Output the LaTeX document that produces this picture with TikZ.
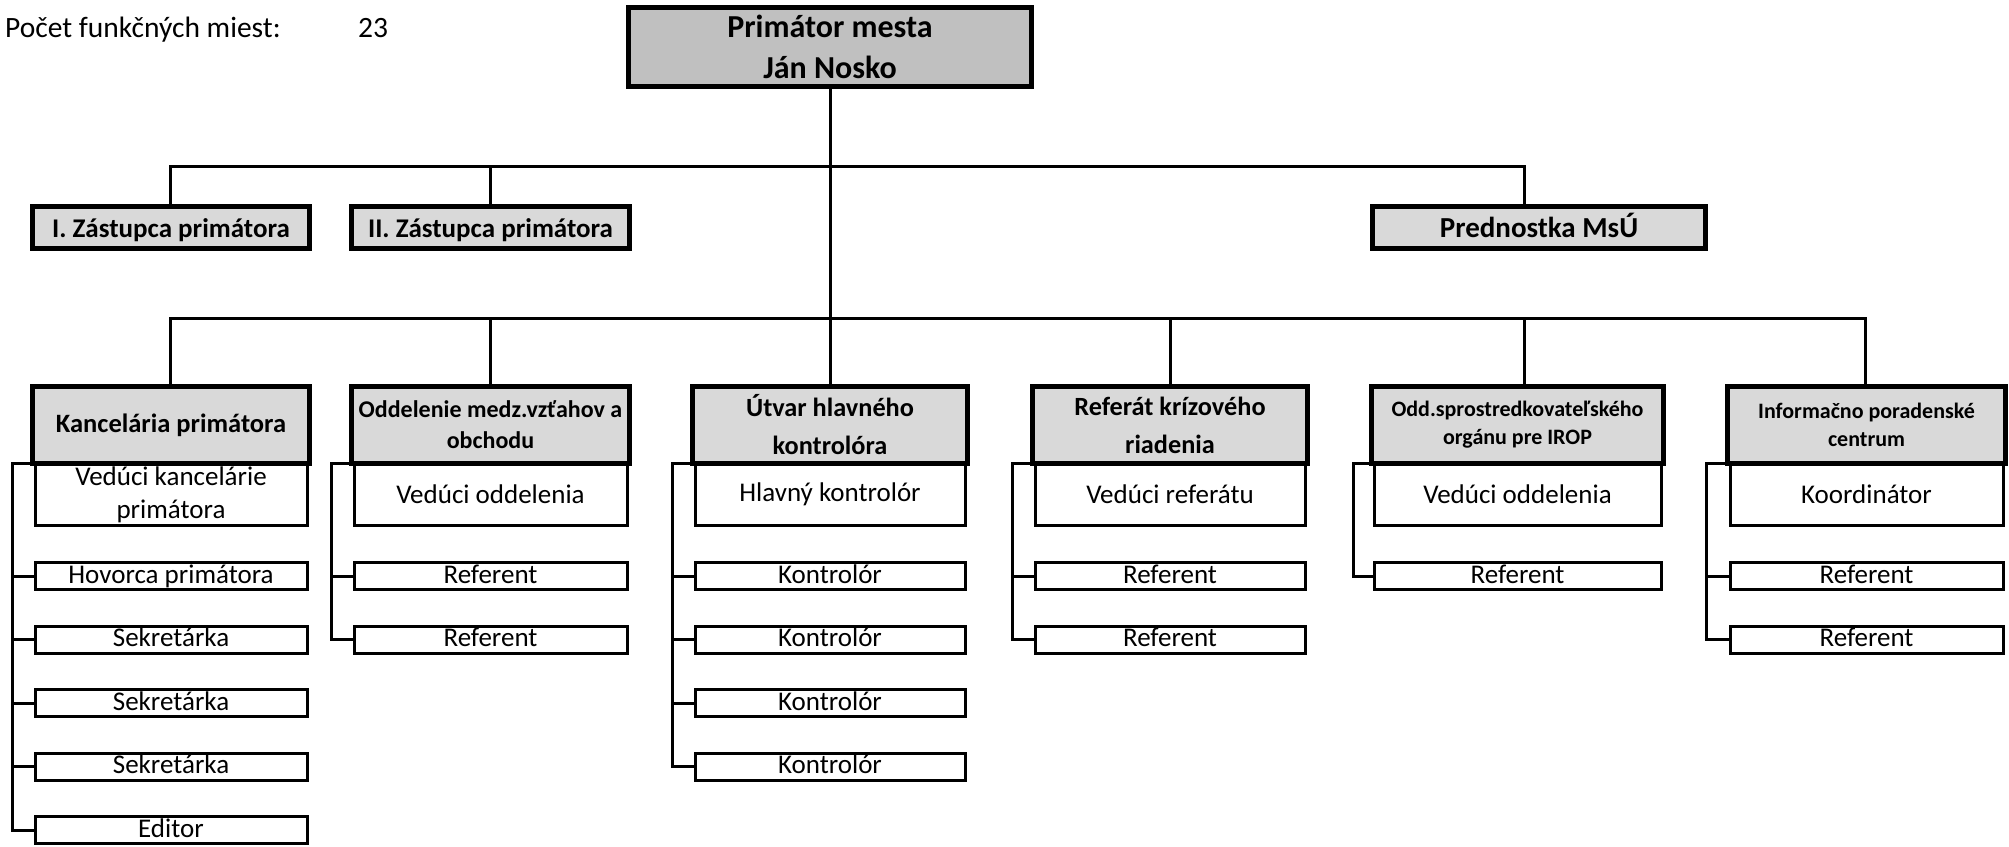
\documentclass[tikz,border=0pt]{standalone}
\usepackage{fontspec}
\setmainfont{Carlito}
\usetikzlibrary{calc}
\pgfdeclarelayer{background}
\pgfsetlayers{background,main}
\definecolor{gtop}{HTML}{C0C0C0}
\definecolor{ghdr}{HTML}{D9D9D9}
\tikzset{
  conn/.style={line width=3pt, line join=miter},
  thickbox/.style={draw, line width=5pt, inner sep=0pt, outer sep=0pt, align=center},
  topbox/.style={thickbox, fill=gtop, font=\bfseries\fontsize{32}{41}\selectfont},
  lvlbox/.style={thickbox, fill=ghdr, minimum height=42pt, text height=22pt, text depth=3pt,
    font=\bfseries\fontsize{27}{33}\selectfont},
  hdrbox/.style={thickbox, fill=ghdr, minimum height=77pt},
  hfontK/.style={font=\bfseries\fontsize{26.5}{38}\selectfont},
  hfontA/.style={font=\bfseries\fontsize{26.3}{38}\selectfont},
  hfontB/.style={font=\bfseries\fontsize{24}{31}\selectfont},
  hfontC/.style={font=\bfseries\fontsize{22}{28}\selectfont},
  subbox/.style={draw, line width=3pt, fill=white, inner sep=0pt, outer sep=0pt, align=center,
    font=\fontsize{27}{33}\selectfont, minimum height=62pt},
  rowbox/.style={draw, line width=3pt, fill=white, inner sep=0pt, outer sep=0pt,
    font=\fontsize{27}{33}\selectfont, minimum height=27pt, text height=19pt, text depth=5pt},
  plain/.style={inner sep=0pt, anchor=base west, font=\fontsize{29.5}{34}\selectfont}
}
\begin{document}
\begin{tikzpicture}[x=1pt,y=-1pt]
\useasboundingbox (0,0) rectangle (2009,846);

% header text
\node[plain] (pocet) at (5,37) {Počet funkčných miest:};
\node[plain] (num) at (358,37) {23};

% top
\node[topbox, minimum width=403pt, minimum height=79pt] (prim) at (830,47) {Primátor mesta\\Ján Nosko};

% second level
\node[lvlbox, minimum width=277pt] (z1) at (171,227.5) {I. Zástupca primátora};
\node[lvlbox, minimum width=278pt] (z2) at (490.5,227.5) {II. Zástupca primátora};
\node[lvlbox, minimum width=333pt, font=\bfseries\fontsize{29}{33}\selectfont] (pr) at (1539,227.5) {Prednostka MsÚ};

% ---- column 1
\node[subbox, minimum width=272pt] (s11) at (171,494.5) {Vedúci kancelárie\\primátora};
\node[hdrbox, hfontK, minimum width=277pt] (c1) at (171,425) {Kancelária primátora};
\node[rowbox, minimum width=272pt] (s12) at (171,576) {Hovorca primátora};
\node[rowbox, minimum width=272pt] (s13) at (171,639.6) {Sekretárka};
\node[rowbox, minimum width=272pt] (s14) at (171,703.2) {Sekretárka};
\node[rowbox, minimum width=272pt] (s15) at (171,766.8) {Sekretárka};
\node[rowbox, minimum width=272pt] (s16) at (171,830.4) {Editor};

% ---- column 2
\node[subbox, minimum width=273pt] (s21) at (490.5,494.5) {Vedúci oddelenia};
\node[hdrbox, hfontB, minimum width=278pt] (c2) at (490.5,425) {Oddelenie medz.vzťahov a\\obchodu};
\node[rowbox, minimum width=273pt] (s22) at (490.5,576) {Referent};
\node[rowbox, minimum width=273pt] (s23) at (490.5,639.6) {Referent};

% ---- column 3
\node[subbox, minimum width=270pt] (s31) at (830,494.5) {Hlavný kontrolór};
\node[hdrbox, hfontA, minimum width=275pt] (c3) at (830,425) {Útvar hlavného\\kontrolóra};
\node[rowbox, minimum width=270pt] (s32) at (830,576) {Kontrolór};
\node[rowbox, minimum width=270pt] (s33) at (830,639.6) {Kontrolór};
\node[rowbox, minimum width=270pt] (s34) at (830,703.2) {Kontrolór};
\node[rowbox, minimum width=270pt] (s35) at (830,766.8) {Kontrolór};

% ---- column 4
\node[subbox, minimum width=270pt] (s41) at (1170,494.5) {Vedúci referátu};
\node[hdrbox, hfontA, minimum width=275pt] (c4) at (1170,425) {Referát krízového\\riadenia};
\node[rowbox, minimum width=270pt] (s42) at (1170,576) {Referent};
\node[rowbox, minimum width=270pt] (s43) at (1170,639.6) {Referent};

% ---- column 5
\node[subbox, minimum width=287pt] (s51) at (1517.5,494.5) {Vedúci oddelenia};
\node[hdrbox, hfontC, minimum width=292pt] (c5) at (1517.5,425) {Odd.sprostredkovateľského\\orgánu pre IROP};
\node[rowbox, minimum width=287pt] (s52) at (1517.5,576) {Referent};

% ---- column 6
\node[subbox, minimum width=273pt] (s61) at (1866.5,494.5) {Koordinátor};
\node[hdrbox, hfontC, minimum width=278pt] (c6) at (1866.5,425) {Informačno poradenské\\centrum};
\node[rowbox, minimum width=273pt] (s62) at (1866.5,576) {Referent};
\node[rowbox, minimum width=273pt] (s63) at (1866.5,639.6) {Referent};

% bus coordinates
\coordinate (a1) at (170,166);
\coordinate (a2) at (490,166);
\coordinate (a3) at (1524,166);
\coordinate (b1) at (170,318);
\coordinate (b2) at (490,318);
\coordinate (b4) at (1170,318);
\coordinate (b5) at (1524,318);
\coordinate (b6) at (1865,318);

\begin{pgfonlayer}{background}
  \draw[conn] (prim.south) -- (c3.north);
  \draw[conn] (a1 |- z1.north) -- (a1) -- (a3) -- (a3 |- pr.north);
  \draw[conn] (a2) -- (a2 |- z2.north);
  \draw[conn] (b1 |- c1.north) -- (b1) -- (b6) -- (b6 |- c6.north);
  \draw[conn] (b2) -- (b2 |- c2.north);
  \draw[conn] (b4) -- (b4 |- c4.north);
  \draw[conn] (b5) -- (b5 |- c5.north);

  % brackets
  \coordinate (k1) at ($(c1.south west)+(-20,0)$);
  \draw[conn] (c1.south west) -- (k1) |- (s16.west);
  \foreach \r in {s12,s13,s14,s15} \draw[conn] (\r.west) -- (\r.west -| k1);

  \coordinate (k2) at ($(c2.south west)+(-20,0)$);
  \draw[conn] (c2.south west) -- (k2) |- (s23.west);
  \draw[conn] (s22.west) -- (s22.west -| k2);

  \coordinate (k3) at ($(c3.south west)+(-20,0)$);
  \draw[conn] (c3.south west) -- (k3) |- (s35.west);
  \foreach \r in {s32,s33,s34} \draw[conn] (\r.west) -- (\r.west -| k3);

  \coordinate (k4) at ($(c4.south west)+(-20,0)$);
  \draw[conn] (c4.south west) -- (k4) |- (s43.west);
  \draw[conn] (s42.west) -- (s42.west -| k4);

  \coordinate (k5) at ($(c5.south west)+(-18,0)$);
  \draw[conn] (c5.south west) -- (k5) |- (s52.west);

  \coordinate (k6) at ($(c6.south west)+(-21,0)$);
  \draw[conn] (c6.south west) -- (k6) |- (s63.west);
  \draw[conn] (s62.west) -- (s62.west -| k6);
\end{pgfonlayer}
\end{tikzpicture}
\end{document}
